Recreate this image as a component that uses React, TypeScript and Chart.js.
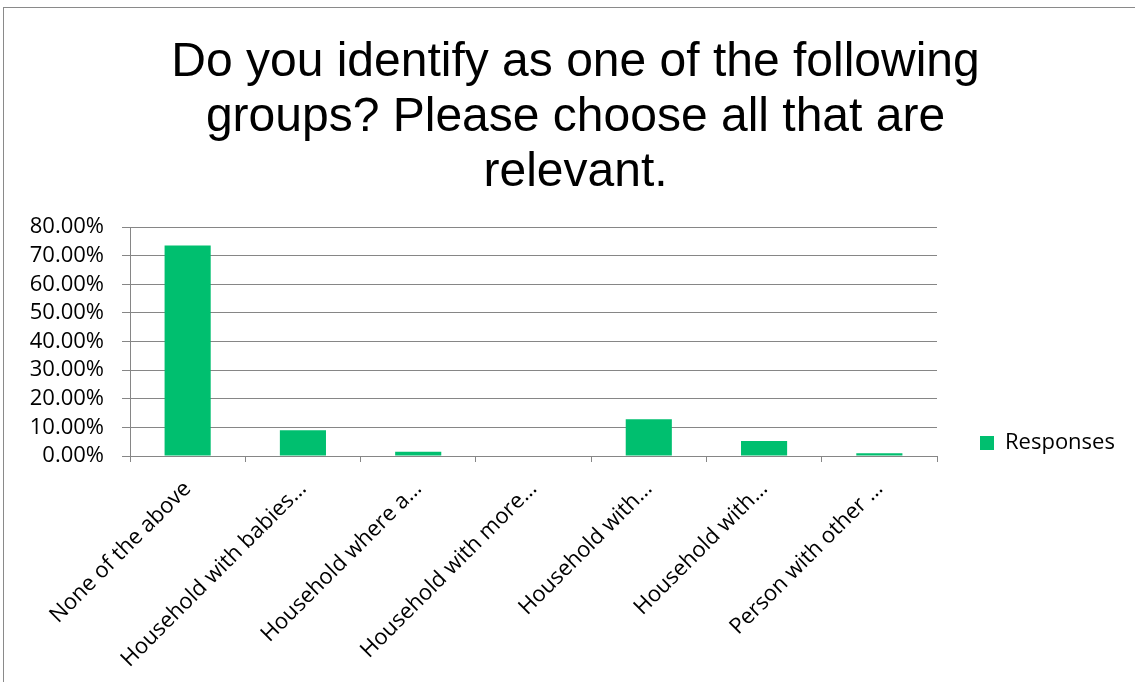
import React, { useEffect, useRef } from "react";
import { Chart, registerables } from "chart.js";

Chart.register(...registerables);

const titleLines = [
  "Do you identify as one of the following",
  "groups? Please choose all that are",
  "relevant.",
];
const categories = [
  "None of the above",
  "Household with babies…",
  "Household where a…",
  "Household with more…",
  "Household with…",
  "Household with…",
  "Person with other …",
];
const responses = [0.735, 0.09, 0.015, 0.002, 0.128, 0.052, 0.0095];
const seriesName = "Responses";
const yMax = 0.8;
const yStep = 0.1;

const GREEN = "#00BF6F";
const GRID = "#868686";
const LABEL_FONT = "'Open Sans', 'DejaVu Sans', sans-serif";
const TITLE_FONT = "'Liberation Sans', Arial, sans-serif";

export default function App() {
  const ref = useRef<HTMLCanvasElement | null>(null);

  useEffect(() => {
    if (!ref.current) return;
    const chart = new Chart(ref.current, {
      type: "bar",
      data: {
        labels: categories,
        datasets: [
          {
            label: seriesName,
            data: responses,
            backgroundColor: GREEN,
            borderWidth: 0,
            categoryPercentage: 1,
            barPercentage: 0.4,
          },
        ],
      },
      options: {
        responsive: false,
        animation: false,
        layout: { padding: { left: 30, right: 14, top: 0, bottom: 0 } },
        plugins: {
          title: {
            display: true,
            text: titleLines,
            color: "#000",
            font: { family: TITLE_FONT, size: 48, weight: "normal", lineHeight: 1.15 },
            padding: { top: 35, bottom: 26.4 },
          },
          legend: {
            display: true,
            position: "right",
            align: "start",
            maxWidth: 184,
            title: {
              display: true,
              text: "",
              font: { size: 10, lineHeight: 1 },
              padding: { top: 379, bottom: 0 },
            },
            labels: {
              boxWidth: 14,
              boxHeight: 14,
              padding: 43,
              color: "#000",
              font: { family: LABEL_FONT, size: 22 },
            },
          },
          tooltip: { enabled: false },
        },
        scales: {
          x: {
            afterFit: (scale: any) => {
              scale.height = 226;
            },
            grid: {
              display: true,
              drawOnChartArea: false,
              drawTicks: true,
              tickLength: 6,
              color: GRID,
              lineWidth: 1,
            },
            border: { display: true, color: GRID, width: 1 },
            ticks: {
              autoSkip: false,
              maxRotation: 45,
              minRotation: 45,
              padding: 14,
              color: "#000",
              font: { family: LABEL_FONT, size: 22 },
            },
          },
          y: {
            min: 0,
            max: yMax,
            afterFit: (scale: any) => {
              scale.width = 100;
            },
            grid: {
              color: GRID,
              lineWidth: 1,
              drawTicks: true,
              tickLength: 8,
            },
            border: { display: true, color: GRID, width: 1 },
            ticks: {
              autoSkip: false,
              stepSize: yStep,
              padding: 18,
              color: "#000",
              font: { family: LABEL_FONT, size: 22 },
              callback: (v: any) => (Number(v) * 100).toFixed(2) + "%",
            },
          },
        },
      },
    });
    return () => chart.destroy();
  }, []);

  return (
    <div
      style={{
        position: "fixed",
        left: 0,
        top: 0,
        width: 1135,
        height: 682,
        overflow: "hidden",
        background: "#fff",
      }}
    >
      <div
        style={{
          position: "absolute",
          left: 3,
          top: 7,
          width: 1300,
          height: 900,
          borderLeft: "1px solid #8a8a8a",
          borderTop: "1px solid #8a8a8a",
        }}
      />
      <canvas
        ref={ref}
        width={1135}
        height={682}
        style={{ position: "absolute", left: 0, top: 0, width: 1135, height: 682 }}
      />
    </div>
  );
}
